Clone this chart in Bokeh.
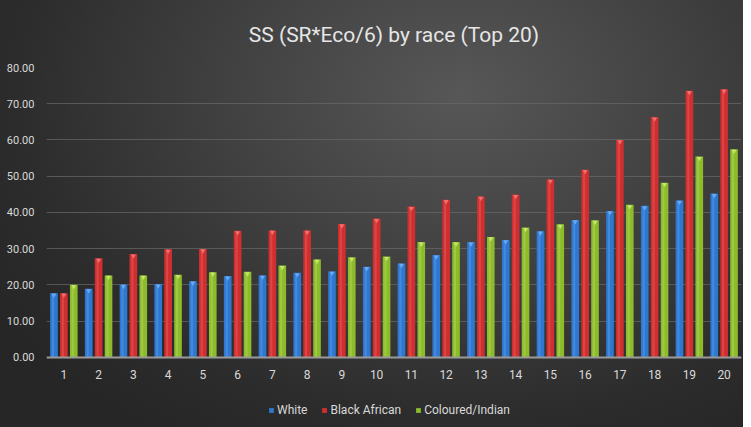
from bokeh.plotting import figure
from bokeh.models import ColumnDataSource, FactorRange, Legend, LegendItem, Title, NumeralTickFormatter, FixedTicker
from bokeh.transform import dodge
from bokeh.embed import file_html
from bokeh.resources import INLINE

categories = [str(i) for i in range(1, 21)]
white = [17.7, 18.9, 20.1, 20.2, 21.0, 22.4, 22.6, 23.3, 23.7, 25.0,
         25.9, 28.2, 31.8, 32.4, 34.8, 37.9, 40.4, 41.8, 43.3, 45.2]
black_african = [17.7, 27.3, 28.5, 29.8, 29.9, 34.9, 35.0, 35.0, 36.8, 38.3,
                 41.6, 43.5, 44.4, 44.9, 49.1, 51.8, 60.0, 66.3, 73.6, 74.0]
coloured_indian = [20.0, 22.6, 22.6, 22.8, 23.5, 23.6, 25.3, 27.0, 27.6, 27.8,
                   31.8, 31.8, 33.2, 35.8, 36.7, 37.8, 42.1, 48.2, 55.4, 57.4]
series_names = ["White", "Black African", "Coloured/Indian"]
y_ticks = [0, 10, 20, 30, 40, 50, 60, 70, 80]

src = ColumnDataSource(dict(cat=categories, w=white, b=black_african, c=coloured_indian))

FONT = "Roboto"

# y range extends below zero to leave room for the category labels and legend
p = figure(x_range=FactorRange(*categories, range_padding=0), y_range=(-19.4, 80),
           frame_width=695, frame_height=360, output_backend="svg", toolbar_location=None,
           min_border_left=46, min_border_right=2, min_border_top=59, min_border_bottom=0)
p.styles = {"background": "radial-gradient(ellipse 75% 95% at 62% 22%, #575757 0%, #424242 40%, #2c2c2c 80%, #262626 100%)"}
p.background_fill_alpha = 0
p.border_fill_alpha = 0
p.outline_line_color = None

p.title = Title(text="SS (SR*Eco/6) by race (Top 20)", align="center", text_font=FONT,
                text_font_size="21px", text_color="#e6e6e6", text_font_style="normal",
                standoff=41, offset=-14)

cols = [("w", -0.285, "#2f78d2", "#6aa8f0"), ("b", 0.0, "#d12f2f", "#f07070"), ("c", 0.285, "#8cbb2c", "#c4e66a")]
renderers = []
for key, off, col, light in cols:
    r = p.vbar(x=dodge("cat", off, range=p.x_range), top=key, width=0.22, source=src,
               fill_color=col, line_color=None)
    p.vbar(x=dodge("cat", off - 0.03, range=p.x_range), top=key, width=0.06, source=src,
           fill_color=light, fill_alpha=0.35, line_color=None)
    p.scatter(x=dodge("cat", off, range=p.x_range), y=dodge(key, -0.5), source=src,
              marker="inverted_triangle", size=5, fill_color=light, line_color=None)
    renderers.append(r)

p.yaxis.ticker = FixedTicker(ticks=y_ticks)
p.yaxis.formatter = NumeralTickFormatter(format="0.00")
p.yaxis.axis_line_color = None
p.yaxis.major_tick_line_color = None
p.yaxis.minor_tick_line_color = None
p.yaxis.major_label_text_color = "#d9d9d9"
p.yaxis.major_label_text_font = FONT
p.yaxis.major_label_text_font_size = "11px"
p.yaxis.major_label_standoff = 6

p.xaxis.fixed_location = 0
p.xaxis.axis_line_color = "#9a9a9a"
p.xaxis.axis_line_width = 2
p.xaxis.major_tick_line_color = None
p.xaxis.minor_tick_line_color = None
p.xaxis.major_label_text_color = "#d9d9d9"
p.xaxis.major_label_text_font = FONT
p.xaxis.major_label_text_font_size = "12px"
p.xaxis.major_label_standoff = 7

p.xgrid.grid_line_color = None
p.ygrid.grid_line_color = "#6a6a6a"
p.ygrid.grid_line_alpha = 0.7

legend = Legend(items=[LegendItem(label=n, renderers=[r]) for n, r in zip(series_names, renderers)],
                orientation="horizontal", location=(222, 10),
                label_text_color="#d9d9d9", label_text_font=FONT, label_text_font_size="12px",
                glyph_width=6, glyph_height=6, label_standoff=3, spacing=14,
                background_fill_alpha=0, border_line_color=None, margin=0, padding=2)
p.add_layout(legend, "center")

open("out.html", "w").write(file_html(p, INLINE))
